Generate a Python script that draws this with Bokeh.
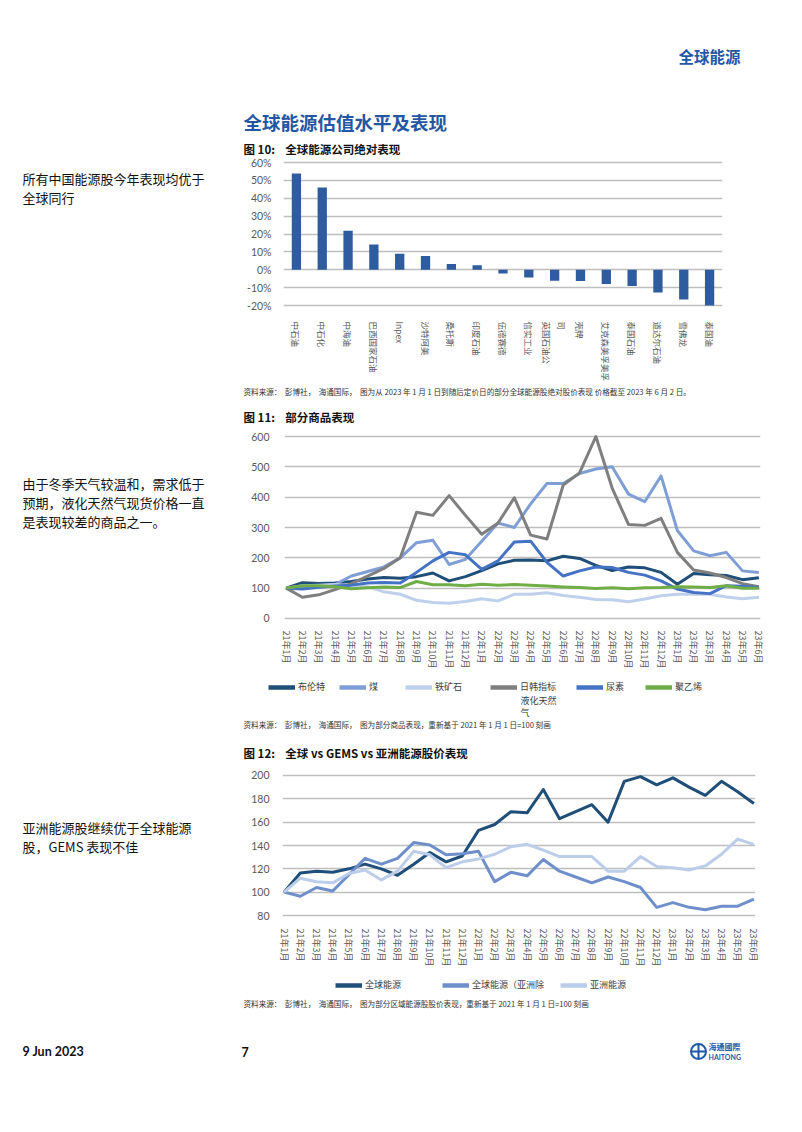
from bokeh.plotting import figure
from bokeh.models import Range1d, FixedTicker, PrintfTickFormatter, Legend, LegendItem
from bokeh.layouts import row, column
from bokeh.core.properties import value
from bokeh.embed import file_html
from bokeh.resources import INLINE

# ---------------- data ----------------
companies = ["中石油", "中石化", "中海油", "巴西国家石油", "Inpex", "沙特阿美", "桑托斯",
             "印度石油", "伍德赛德", "信实工业", "英国石油公司", "壳牌", "艾克森美孚美孚",
             "泰国石油", "道达尔石油", "雪佛龙", "泰国油"]
company_labels = ["中石油", "中石化", "中海油", "巴西国家石油", "Inpex", "沙特阿美", "桑托斯",
                  "印度石油", "伍德赛德", "信实工业", "司\n英国石油公", "壳牌", "艾克森美孚美孚",
                  "泰国石油", "道达尔石油", "雪佛龙", "泰国油"]
ytd_perf = [53.7, 46.0, 21.8, 14.2, 9.0, 7.7, 3.3, 2.5, -2.0, -4.3, -6.1, -6.2, -7.9,
            -9.0, -12.6, -16.5, -19.9]
pct_ticks = [-20, -10, 0, 10, 20, 30, 40, 50, 60]

months = ["21年1月", "21年2月", "21年3月", "21年4月", "21年5月", "21年6月", "21年7月",
          "21年8月", "21年9月", "21年10月", "21年11月", "21年12月", "22年1月", "22年2月",
          "22年3月", "22年4月", "22年5月", "22年6月", "22年7月", "22年8月", "22年9月",
          "22年10月", "22年11月", "22年12月", "23年1月", "23年2月", "23年3月", "23年4月",
          "23年5月", "23年6月"]

brent = [100, 118, 115, 117, 122, 130, 135, 133, 138, 150, 124, 138, 158, 180, 192, 193,
         190, 205, 198, 175, 158, 170, 167, 152, 113, 148, 144, 142, 128, 134]
coal = [100, 105, 108, 112, 140, 155, 170, 200, 250, 258, 178, 195, 255, 315, 300, 378,
        445, 445, 478, 493, 500, 410, 385, 470, 290, 223, 207, 218, 157, 152]
iron_ore = [100, 108, 110, 112, 108, 105, 88, 80, 60, 53, 50, 56, 65, 58, 80, 80, 85, 76,
            70, 63, 62, 55, 64, 75, 80, 80, 80, 71, 65, 70]
jkm_lng = [100, 70, 78, 95, 115, 140, 165, 200, 350, 340, 405, 340, 278, 315, 398, 275,
           262, 440, 480, 600, 430, 310, 307, 330, 218, 160, 150, 135, 115, 105]
urea = [100, 97, 103, 107, 110, 117, 119, 117, 152, 190, 218, 210, 162, 190, 252, 255, 185,
        140, 157, 170, 168, 152, 143, 124, 97, 86, 82, 108, 106, 102]
polyethylene = [100, 108, 108, 105, 98, 101, 104, 102, 122, 111, 111, 108, 113, 110, 112,
                110, 107, 104, 102, 99, 101, 98, 101, 102, 105, 104, 102, 108, 100, 100]
commodity_ticks = [0, 100, 200, 300, 400, 500, 600]

global_energy = [100, 116.5, 118, 117, 120, 124, 120, 114.5, 124, 134, 126, 131, 153, 158,
                 169, 168, 188, 163, 169, 175, 160, 195, 199, 192, 198, 190, 183, 195, 186, 176]
global_ex_asia = [100, 96.5, 104, 101, 115, 129, 124, 129, 142.5, 140.5, 132, 133, 135, 109,
                  117, 114, 128, 118, 113, 108, 113, 109, 104, 87, 91, 87, 85, 88, 88, 94]
asia_energy = [100, 112, 109, 108, 116, 119, 110.5, 118, 135, 132, 121, 126, 128.5, 132.5,
               139, 141, 136, 130.5, 130.5, 130.5, 118, 118, 130.5, 122, 121, 119, 122.5,
               132.5, 145.5, 141]
region_ticks = [80, 100, 120, 140, 160, 180, 200]

# ---------------- style ----------------
CJK = "Noto Sans CJK SC"
NUM = "Lato"
BLUE = "#2456A4"
GRID = "#BFBFBF"
TICK = "#595959"
NB = "\u00a0"

c_brent = "#1F4E79"
c_coal = "#7F9ED6"
c_iron = "#BFD0EC"
c_lng = "#7F7F7F"
c_urea = "#4472C4"
c_pe = "#70AD47"
c_glob = "#1F4E79"
c_exas = "#6F8FCB"
c_asia = "#BCCDEA"

PAGE_W, PAGE_H = 800, 1128
RX0, RX1 = 240, PAGE_W  # right column in page coordinates
RW = RX1 - RX0
NAN = float("nan")


def text_fig(w, h, x0, x1, ytop, ybot):
    p = figure(width=w, height=h, x_range=Range1d(x0, x1), y_range=Range1d(ybot, ytop),
               output_backend="svg", toolbar_location=None, min_border=0,
               x_axis_location=None, y_axis_location=None, title=None, frame_align=False)
    p.grid.visible = False
    p.outline_line_color = None
    p.background_fill_color = "white"
    p.border_fill_color = "white"
    return p


def txt(p, x, y, s, size, color="#1a1a1a", bold=False, font=CJK, align="left"):
    p.text(x=[x], y=[y], text=[s], text_font=value(font), text_font_size=f"{size}px",
           text_color=color, text_font_style="bold" if bold else "normal",
           text_align=align, text_baseline="middle")


def legend_item(p, label, color, x_ref, y_ref, ybot_ref, width=4.5):
    r = p.line(x=[NAN, NAN], y=[NAN, NAN], line_color=color, line_width=width)
    h = 12
    leg = Legend(items=[LegendItem(label=label, renderers=[r])],
                 location=(x_ref - RX0, ybot_ref - y_ref - h / 2),
                 orientation="horizontal", padding=0, margin=0, border_line_color=None,
                 background_fill_alpha=0, glyph_width=27, glyph_height=h, label_height=h,
                 label_standoff=3, label_text_font=CJK, label_text_font_size="9px",
                 label_text_color="#404040")
    p.add_layout(leg)


def chart_fig(h, left, right, top, bottom, xr, yr):
    p = figure(width=RW, height=h, x_range=xr, y_range=yr, output_backend="svg",
               toolbar_location=None, title=None, min_border_left=left,
               min_border_right=right, min_border_top=top, min_border_bottom=bottom,
               frame_align=False)
    p.outline_line_color = None
    p.background_fill_color = "white"
    p.border_fill_color = "white"
    p.xgrid.visible = False
    p.ygrid.grid_line_color = GRID
    p.ygrid.grid_line_width = 1.3
    for ax in (p.xaxis, p.yaxis):
        ax.axis_line_color = None
        ax.major_tick_line_color = None
        ax.minor_tick_line_color = None
        ax.major_label_text_color = TICK
    p.yaxis.major_label_text_font = NUM
    p.yaxis.major_label_text_font_size = "10.5px"
    p.xaxis.major_label_text_font = CJK
    p.xaxis.major_label_orientation = "vertical"
    return p


# ---------------- left text column ----------------
left = text_fig(RX0, PAGE_H, 0, RX0, 0, PAGE_H)
for y, s in [(178, "所有中国能源股今年表现均优于"), (197, "全球同行"),
             (483, "由于冬季天气较温和，需求低于"), (502, "预期，液化天然气现货价格一直"),
             (521, "是表现较差的商品之一。"),
             (827, "亚洲能源股继续优于全球能源"), (846, "股，GEMS 表现不佳")]:
    txt(left, 22, y, s, 13, "#111111")
txt(left, 22, 1051, "9 Jun 2023", 12.5, "#111111", bold=True, font=NUM)

# ---------------- header ----------------
r1 = text_fig(RW, 156, RX0, RX1, 0, 156)
txt(r1, 678, 55, "全球能源", 15.5, BLUE, bold=True)
txt(r1, 243, 121, "全球能源估值水平及表现", 18.5, BLUE, bold=True)
txt(r1, 243, 148, "图 10:" + NB * 4 + "全球能源公司绝对表现", 11.5, "#111111", bold=True)

# ---------------- chart 1 ----------------
c1 = chart_fig(228, 43, RX1 - 722, 4, 75, Range1d(-0.5, len(companies) - 0.5), Range1d(-21, 61))
c1.vbar(x=list(range(len(companies))), top=ytd_perf, bottom=0, width=0.36,
        fill_color="#2E5C9E", line_color=None)
c1.yaxis.ticker = FixedTicker(ticks=pct_ticks)
c1.yaxis.formatter = PrintfTickFormatter(format="%d%%")
c1.yaxis.major_label_standoff = 6
c1.xaxis.ticker = FixedTicker(ticks=list(range(len(companies))))
c1.xaxis.major_label_overrides = {i: s for i, s in enumerate(company_labels)}
c1.xaxis.major_label_text_font_size = "8.5px"
c1.xaxis.major_label_standoff = 8

# ---------------- between 1 and 2 ----------------
SRC = "资料来源：" + NB * 2 + "彭博社，" + NB * 2 + "海通国际，" + NB * 2
r2 = text_fig(RW, 44, RX0, RX1, 384, 428)
txt(r2, 243, 391, SRC + "图为从 2023 年 1 月 1 日到随后定价日的部分全球能源股绝对股价表现 价格截至 2023 年 6 月 2 日。",
    7.6, "#333333")
txt(r2, 243, 416, "图 11:" + NB * 4 + "部分商品表现", 11.5, "#111111", bold=True)

# ---------------- chart 2 ----------------
xs = list(range(len(months)))
c2 = chart_fig(244, 44, RX1 - 760, 6, 52, Range1d(-0.1, len(months) - 0.9), Range1d(-6.6, 606.6))
for series, col in [(brent, c_brent), (coal, c_coal), (iron_ore, c_iron), (jkm_lng, c_lng),
                    (urea, c_urea), (polyethylene, c_pe)]:
    c2.line(x=xs, y=series, line_color=col, line_width=3, line_join="round")
c2.yaxis.ticker = FixedTicker(ticks=commodity_ticks)
c2.yaxis.major_label_standoff = 9
c2.xaxis.ticker = FixedTicker(ticks=xs)
c2.xaxis.major_label_overrides = {i: s for i, s in enumerate(months)}
c2.xaxis.major_label_text_font_size = "9px"
c2.xaxis.major_label_standoff = 4

# ---------------- legend 2 + source + title 12 ----------------
r3 = text_fig(RW, 90, RX0, RX1, 672, 762)
for lab, col, x in [("布伦特", c_brent, 268), ("煤", c_coal, 339), ("铁矿石", c_iron, 405),
                    ("日韩指标", c_lng, 490), ("尿素", c_urea, 576), ("聚乙烯", c_pe, 645)]:
    legend_item(r3, lab, col, x, 687, 762)
txt(r3, 520, 699.5, "液化天然", 9, "#404040")
txt(r3, 520, 712, "气", 9, "#404040")
txt(r3, 243, 724, SRC + "图为部分商品表现，重新基于 2021 年 1 月 1 日=100 刻画", 7.6, "#333333")
txt(r3, 243, 752, "图 12:" + NB * 4 + "全球 vs GEMS vs 亚洲能源股价表现", 11.5, "#111111", bold=True)

# ---------------- chart 3 ----------------
c3 = chart_fig(210, 42, RX1 - 755, 11, 55, Range1d(-0.1, len(months) - 0.9), Range1d(78.29, 201.71))
for series, col in [(global_energy, c_glob), (global_ex_asia, c_exas), (asia_energy, c_asia)]:
    c3.line(x=xs, y=series, line_color=col, line_width=3, line_join="round")
c3.yaxis.ticker = FixedTicker(ticks=region_ticks)
c3.yaxis.major_label_standoff = 7
c3.xaxis.ticker = FixedTicker(ticks=xs)
c3.xaxis.major_label_overrides = {i: s for i, s in enumerate(months)}
c3.xaxis.major_label_text_font_size = "9px"
c3.xaxis.major_label_standoff = 5

# ---------------- legend 3 + source + footer ----------------
r4 = text_fig(RW, PAGE_H - 972, RX0, RX1, 972, PAGE_H)
for lab, col, x in [("全球能源", c_glob, 335), ("全球能源（亚洲除", c_exas, 442),
                    ("亚洲能源", c_asia, 560)]:
    legend_item(r4, lab, col, x, 985, PAGE_H)
txt(r4, 243, 1003, SRC + "图为部分区域能源股股价表现，重新基于 2021 年 1 月 1 日=100 刻画",
    7.6, "#333333")
txt(r4, 241, 1051, "7", 12.5, "#111111", bold=True, font=NUM)
r4.scatter(x=[698], y=[1051], marker="circle_cross", size=15, fill_color="white",
           line_color="#1F5AA6", line_width=2)
txt(r4, 708, 1046, "海通國際", 8, "#1F5AA6", bold=True, font="Noto Sans CJK TC")
txt(r4, 708, 1056.5, "HAITONG", 7, "#1F5AA6", bold=True, font=NUM)

page = row(left, column(r1, c1, r2, c2, r3, c3, r4))
open("out.html", "w").write(file_html(page, INLINE))
